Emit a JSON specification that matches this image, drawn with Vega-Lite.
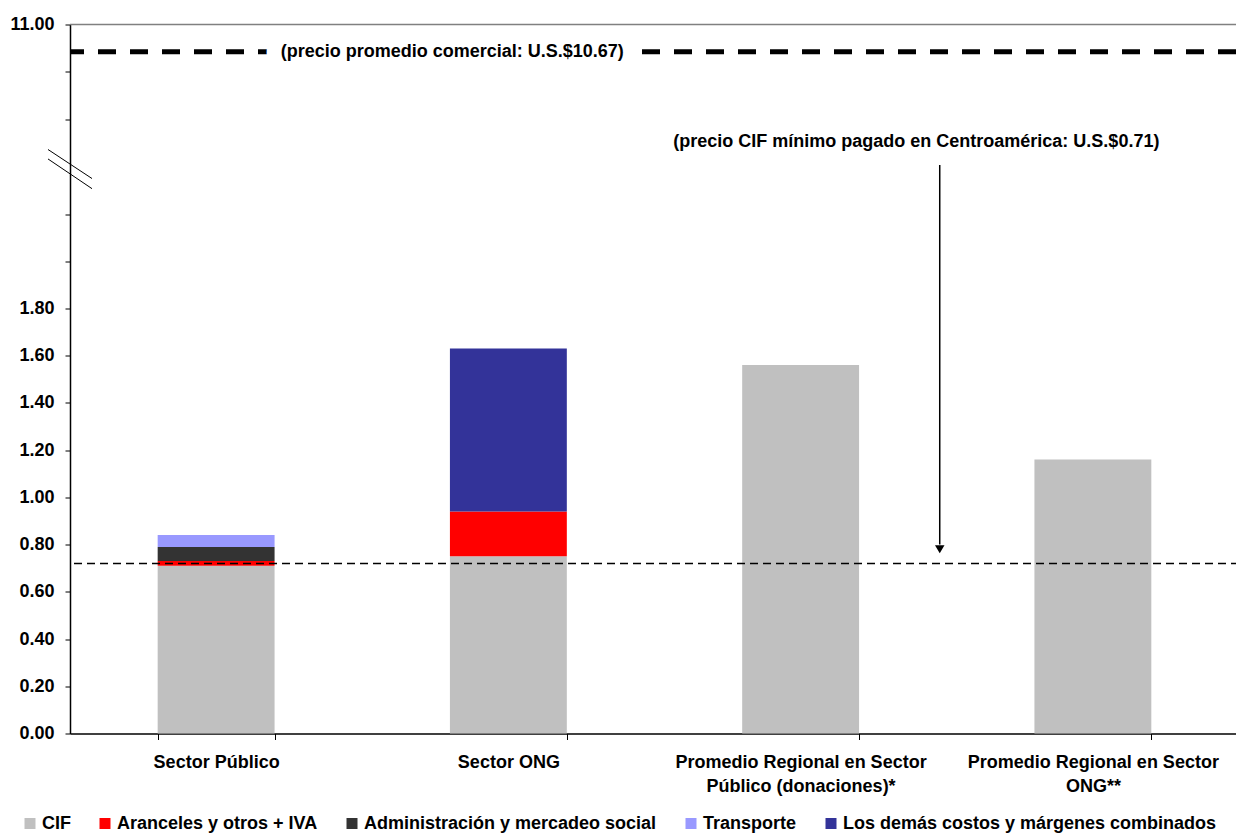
{
  "$schema": "https://vega.github.io/schema/vega-lite/v6.json",
  "autosize": {"type": "none"},
  "width": 1169,
  "height": 709,
  "padding": {"left": 70, "top": 24.5, "right": -3, "bottom": 99.5},
  "config": {
    "view": {"stroke": null},
    "font": "Liberation Sans",
    "axis": {"labelFont": "Liberation Sans", "labelFontWeight": "bold", "labelFontSize": 18, "labelColor": "#000", "domainColor": "#000", "tickColor": "#000", "grid": false, "title": null},
    "legend": {"labelFont": "Liberation Sans", "labelFontWeight": "bold", "labelFontSize": 18, "labelColor": "#000"}
  },
  "datasets": {
    "costs": [
      {"category": "Sector Público", "component": "CIF", "value": 0.71},
      {"category": "Sector Público", "component": "Aranceles y otros + IVA", "value": 0.02},
      {"category": "Sector Público", "component": "Administración y mercadeo social", "value": 0.06},
      {"category": "Sector Público", "component": "Transporte", "value": 0.05},
      {"category": "Sector ONG", "component": "CIF", "value": 0.75},
      {"category": "Sector ONG", "component": "Aranceles y otros + IVA", "value": 0.19},
      {"category": "Sector ONG", "component": "Los demás costos y márgenes combinados", "value": 0.69},
      {"category": "Promedio Regional en Sector Público (donaciones)*", "component": "CIF", "value": 1.56},
      {"category": "Promedio Regional en Sector ONG**", "component": "CIF", "value": 1.16}
    ],
    "refs": [
      {"name": "comercial", "value": 10.67, "label": "(precio promedio comercial: U.S.$10.67)"},
      {"name": "cifmin", "value": 0.72, "label": "(precio CIF mínimo pagado en Centroamérica: U.S.$0.71)"}
    ],
    "one": [{}]
  },
  "encoding": {
    "x": {
      "field": "category", "type": "nominal",
      "sort": ["Sector Público", "Sector ONG", "Promedio Regional en Sector Público (donaciones)*", "Promedio Regional en Sector ONG**"],
      "scale": {"paddingInner": 0.6, "paddingOuter": 0.3},
      "axis": {
        "labelAngle": 0, "tickBand": "extent", "tickSize": 6, "domainWidth": 1.5, "labelPadding": 14, "labelLimit": 0, "labelLineHeight": 24,
        "labelExpr": "datum.label == 'Promedio Regional en Sector Público (donaciones)*' ? ['Promedio Regional en Sector', 'Público (donaciones)*'] : datum.label == 'Promedio Regional en Sector ONG**' ? ['Promedio Regional en Sector', 'ONG**'] : datum.label"
      }
    }
  },
  "layer": [
    {
      "data": {"name": "costs"},
      "transform": [
        {"calculate": "indexof(['CIF', 'Aranceles y otros + IVA', 'Administración y mercadeo social', 'Transporte', 'Los demás costos y márgenes combinados'], datum.component)", "as": "stackOrder"}
      ],
      "mark": {"type": "bar"},
      "encoding": {
        "y": {
          "field": "value", "type": "quantitative", "stack": "zero",
          "scale": {"domain": [0, 2, 10.67, 11], "range": [709, 236.6, 27.2, 0], "nice": false, "zero": false},
          "axis": {
            "values": [0, 0.2, 0.4, 0.6, 0.8, 1.0, 1.2, 1.4, 1.6, 1.8, 2.0, 3.95, 7.88, 9.83, 11],
            "labelExpr": "datum.value <= 1.81 || datum.value >= 10.99 ? format(datum.value, '.2f') : ''",
            "tickSize": 5, "labelPadding": 11, "domainWidth": 1.5
          }
        },
        "color": {
          "field": "component", "type": "nominal",
          "scale": {
            "domain": ["CIF", "Aranceles y otros + IVA", "Administración y mercadeo social", "Transporte", "Los demás costos y márgenes combinados"],
            "range": ["#C0C0C0", "#FF0000", "#333333", "#9999FF", "#333399"]
          },
          "legend": {
            "orient": "none", "direction": "horizontal", "columns": 5, "legendX": -49, "legendY": 790,
            "title": null, "symbolType": "square", "symbolSize": 121, "symbolStrokeWidth": 0, "labelOffset": 3, "columnPadding": 25, "labelLimit": 0, "padding": 0
          }
        },
        "order": {"field": "stackOrder", "type": "quantitative"}
      }
    },
    {
      "data": {"name": "one"},
      "mark": {"type": "rule", "color": "#808080", "strokeWidth": 1.5},
      "encoding": {"y": {"datum": 11, "type": "quantitative"}, "x": null}
    },
    {
      "data": {"name": "refs"},
      "transform": [{"filter": "datum.name == 'cifmin'"}],
      "mark": {"type": "rule", "color": "#000", "strokeWidth": 1.5, "strokeDash": [8, 5]},
      "encoding": {"y": {"field": "value", "type": "quantitative"}, "x": null}
    },
    {
      "data": {"name": "refs"},
      "transform": [{"filter": "datum.name == 'comercial'"}],
      "mark": {"type": "rule", "color": "#000", "strokeWidth": 5, "strokeDash": [18, 14], "strokeDashOffset": 29},
      "encoding": {"y": {"field": "value", "type": "quantitative"}, "x": null}
    },
    {
      "data": {"name": "refs"},
      "transform": [{"filter": "datum.name == 'comercial'"}],
      "mark": {"type": "text", "font": "Liberation Sans", "fontWeight": "bold", "fontSize": 18, "fill": "#fff", "stroke": "#fff", "strokeWidth": 30, "strokeJoin": "round", "align": "center", "baseline": "middle"},
      "encoding": {
        "y": {"field": "value", "type": "quantitative"},
        "x": {"datum": "Sector ONG", "bandPosition": 0.02},
        "text": {"field": "label"}
      }
    },
    {
      "data": {"name": "refs"},
      "transform": [{"filter": "datum.name == 'comercial'"}],
      "mark": {"type": "text", "font": "Liberation Sans", "fontWeight": "bold", "fontSize": 18, "color": "#000", "align": "center", "baseline": "middle"},
      "encoding": {
        "y": {"field": "value", "type": "quantitative"},
        "x": {"datum": "Sector ONG", "bandPosition": 0.02},
        "text": {"field": "label"}
      }
    },
    {
      "data": {"name": "refs"},
      "transform": [{"filter": "datum.name == 'cifmin'"}],
      "mark": {"type": "text", "font": "Liberation Sans", "fontWeight": "bold", "fontSize": 18, "color": "#000", "align": "center", "baseline": "middle"},
      "encoding": {
        "y": {"datum": 6.93, "type": "quantitative"},
        "x": {"datum": "Promedio Regional en Sector Público (donaciones)*", "bandPosition": 1.49},
        "text": {"field": "label"}
      }
    },
    {
      "data": {"name": "one"},
      "mark": {"type": "rule", "color": "#000", "strokeWidth": 1.5},
      "encoding": {
        "x": {"datum": "Promedio Regional en Sector Público (donaciones)*", "bandPosition": 1.69},
        "y": {"datum": 5.98, "type": "quantitative"},
        "y2": {"datum": 0.8}
      }
    },
    {
      "data": {"name": "one"},
      "mark": {"type": "point", "shape": "triangle-down", "filled": true, "color": "#000", "size": 90, "opacity": 1},
      "encoding": {
        "x": {"datum": "Promedio Regional en Sector Público (donaciones)*", "bandPosition": 1.69},
        "y": {"datum": 0.78, "type": "quantitative"}
      }
    },
    {
      "data": {"name": "one"},
      "mark": {"type": "point", "shape": "M-1,-0.89L1,0.43M-1,-0.46L1,0.89", "filled": false, "stroke": "#000", "strokeWidth": 1, "size": 1936, "opacity": 1},
      "encoding": {
        "x": {"value": 0},
        "y": {"datum": 5.81, "type": "quantitative"}
      }
    }
  ]
}
